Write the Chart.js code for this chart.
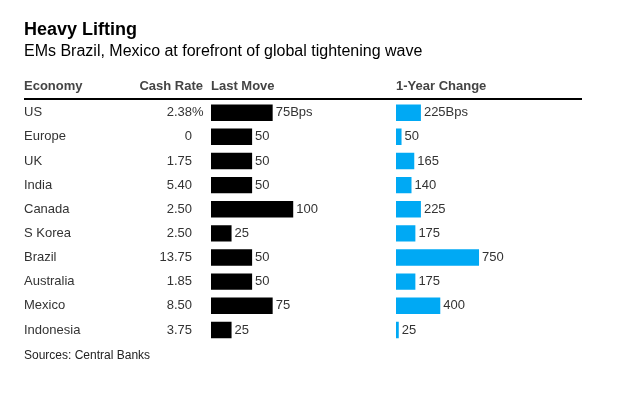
<!DOCTYPE html>
<html>
<head>
<meta charset="utf-8">
<script src="https://cdn.jsdelivr.net/npm/chart.js@4.4.1/dist/chart.umd.min.js"></script>
<style>
  body { margin: 0; background: #fff; font-family: 'Liberation Sans', Arial, Helvetica, sans-serif; }
  #wrap { position: relative; width: 618px; height: 404px; overflow: hidden; }
  #wrap canvas { position: absolute; left: 0; top: 0; }
  .t { position: absolute; white-space: nowrap; }
  .title { left: 24px; top: 20px; font-size: 18px; line-height: 18px; font-weight: bold; color: #000; }
  .sub { left: 24px; top: 42.5px; font-size: 16px; line-height: 16px; color: #000; }
  .hd { top: 79px; font-size: 13px; line-height: 13px; font-weight: bold; color: #444; }
  .src { left: 24px; top: 349px; font-size: 12px; line-height: 12px; color: #222; }
  .rule { position: absolute; left: 24px; top: 98px; width: 558px; height: 2px; background: #000; }
</style>
</head>
<body>
<div id="wrap">
  <canvas id="c" width="618" height="404"></canvas>
  <div class="t title">Heavy Lifting</div>
  <div class="t sub">EMs Brazil, Mexico at forefront of global tightening wave</div>
  <div class="t hd" style="left:24px">Economy</div>
  <div class="t hd" style="right:415px">Cash Rate</div>
  <div class="t hd" style="left:211px">Last Move</div>
  <div class="t hd" style="left:396px">1-Year Change</div>
  <div class="rule"></div>
  <div class="t src">Sources: Central Banks</div>
</div>
<script>
// data
const economies = ['US', 'Europe', 'UK', 'India', 'Canada', 'S Korea', 'Brazil', 'Australia', 'Mexico', 'Indonesia']
const cashRates = ['2.38', '0', '1.75', '5.40', '2.50', '2.50', '13.75', '1.85', '8.50', '3.75']
const lastMove = [75, 50, 50, 50, 100, 25, 50, 50, 75, 25]
const yearChange = [225, 50, 165, 140, 225, 175, 750, 175, 400, 25]

const FONT = "'Liberation Sans', Arial, Helvetica, sans-serif"
const TEXT = '#333'
const BLUE = '#00a9f4'

// cash rate column, right aligned on the numbers, first row gets a hanging %
const cashColumn = {
    id: 'cashColumn',
    afterDraw(chart) {
        const ctx = chart.ctx
        const y = chart.scales.y
        ctx.save()
        ctx.font = '13px ' + FONT
        ctx.fillStyle = TEXT
        ctx.textBaseline = 'middle'
        cashRates.forEach((v, i) => {
            const py = y.getPixelForValue(i)
            ctx.textAlign = 'right'
            ctx.fillText(v, 192, py)
            if (i === 0) {
                ctx.textAlign = 'left'
                ctx.fillText('%', 192, py)
            }
        })
        ctx.restore()
    }
}

// value labels to the right of each bar
const barLabels = {
    id: 'barLabels',
    afterDatasetsDraw(chart) {
        const ctx = chart.ctx
        ctx.save()
        ctx.font = '13px ' + FONT
        ctx.fillStyle = TEXT
        ctx.textAlign = 'left'
        ctx.textBaseline = 'middle'
        chart.data.datasets.forEach((ds, d) => {
            chart.getDatasetMeta(d).data.forEach((bar, i) => {
                const txt = ds.data[i] + (i === 0 ? 'Bps' : '')
                ctx.fillText(txt, bar.x + 3, bar.y)
            })
        })
        ctx.restore()
    }
}

new Chart(document.getElementById('c'), {
    type: 'bar',
    data: {
        labels: economies,
        datasets: [
            {
                label: 'Last Move',
                data: lastMove,
                xAxisID: 'x1',
                yAxisID: 'y',
                backgroundColor: '#000',
                grouped: false,
                barPercentage: 0.68,
                categoryPercentage: 1,
            },
            {
                label: '1-Year Change',
                data: yearChange,
                xAxisID: 'x2',
                yAxisID: 'y',
                backgroundColor: BLUE,
                grouped: false,
                barPercentage: 0.68,
                categoryPercentage: 1,
            }
        ]
    },
    options: {
        indexAxis: 'y',
        responsive: false,
        animation: false,
        layout: {
            padding: { left: 24, right: 36, top: 100.6, bottom: 62 }
        },
        scales: {
            y: {
                type: 'category',
                position: 'left',
                offset: true,
                grid: { display: false },
                border: { display: false },
                ticks: {
                    crossAlign: 'far',
                    padding: 0,
                    color: TEXT,
                    font: { family: FONT, size: 13 },
                    autoSkip: false,
                },
                afterFit: (scale) => { scale.width = 187 }
            },
            x1: {
                type: 'linear',
                position: 'bottom',
                stack: 'cols',
                stackWeight: 185,
                min: 0,
                max: 225,
                display: false,
            },
            x2: {
                type: 'linear',
                position: 'bottom',
                stack: 'cols',
                stackWeight: 186,
                min: 0,
                max: 1680,
                display: false,
            }
        },
        plugins: {
            legend: { display: false },
            tooltip: { enabled: false },
        }
    },
    plugins: [cashColumn, barLabels]
})
</script>
</body>
</html>
